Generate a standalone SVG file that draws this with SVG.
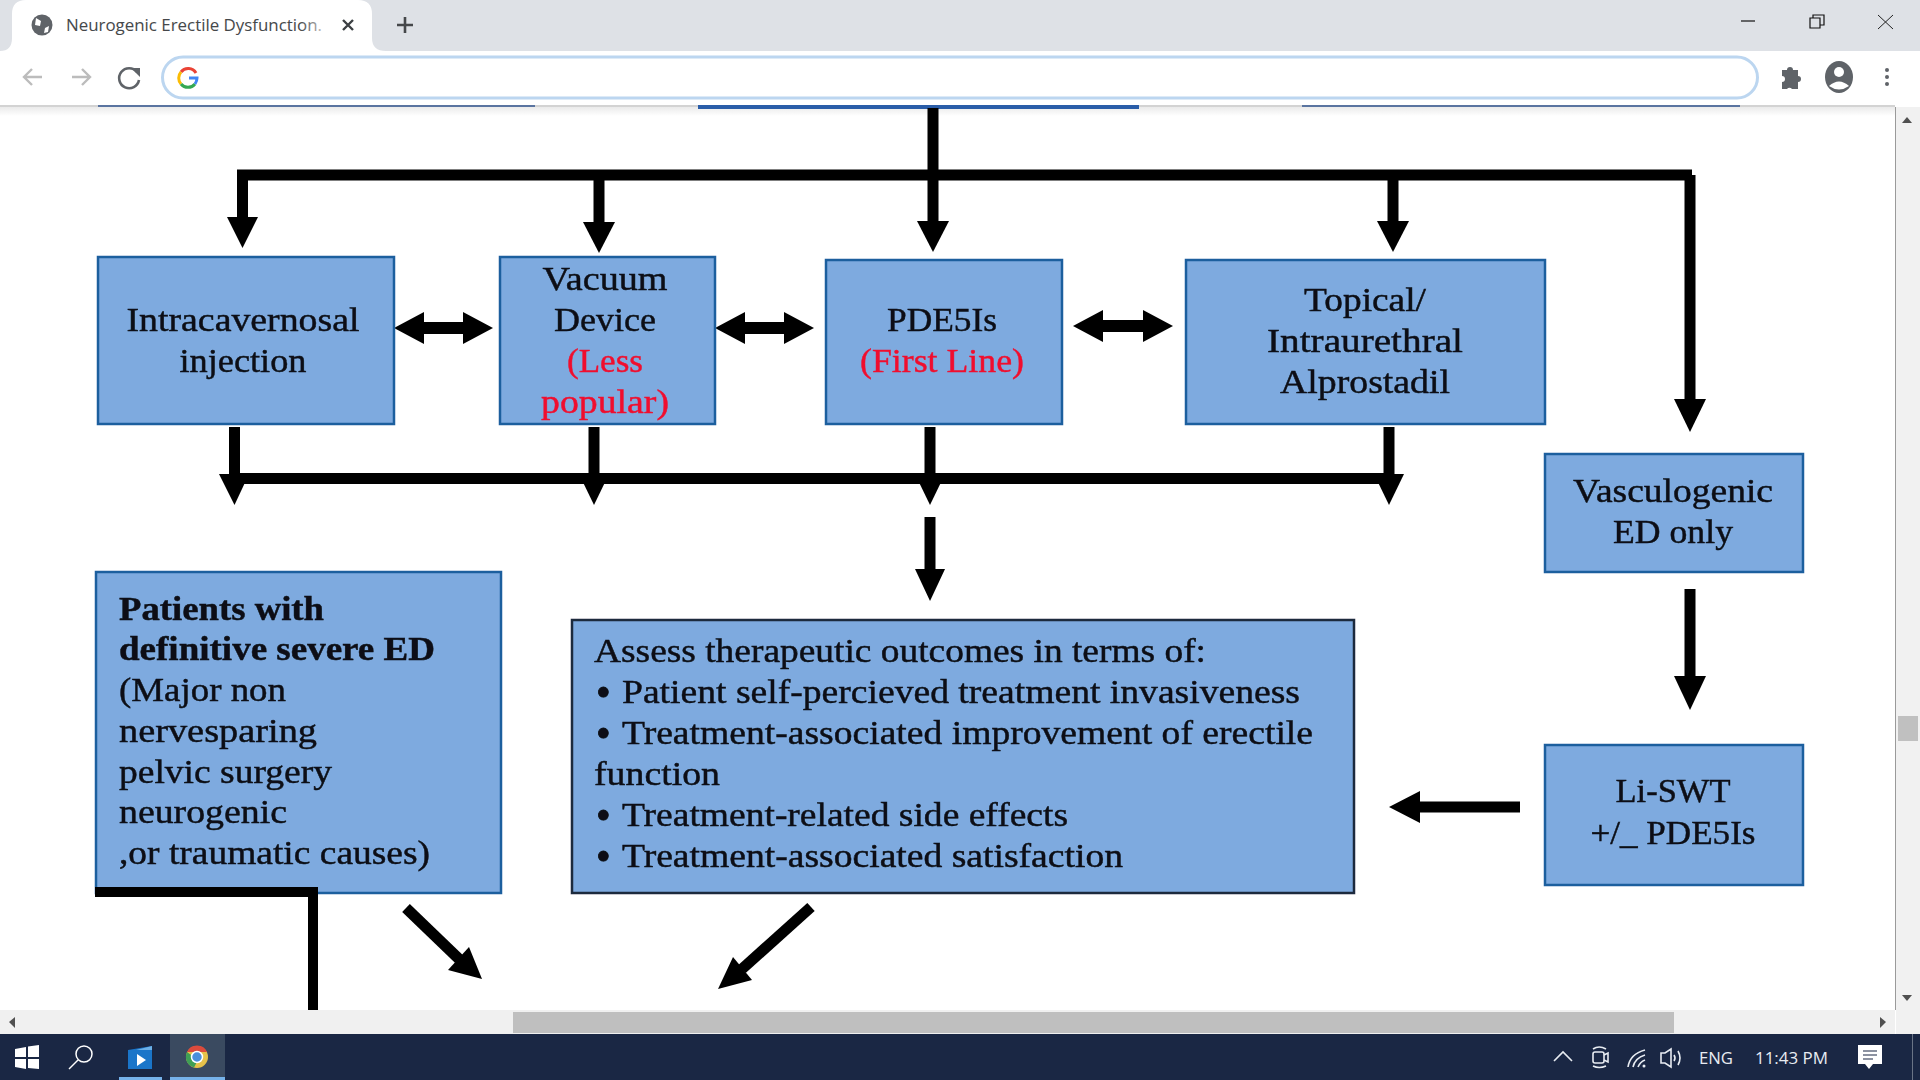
<svg xmlns="http://www.w3.org/2000/svg" width="1920" height="1080" viewBox="0 0 1920 1080">
<defs>
<linearGradient id="fade" gradientUnits="userSpaceOnUse" x1="300" y1="0" x2="324" y2="0"><stop offset="0" stop-color="#45474a"/><stop offset="1" stop-color="#c8c8c8"/></linearGradient>
<linearGradient id="shadow" x1="0" y1="0" x2="0" y2="1"><stop offset="0" stop-color="#c4c4c4"/><stop offset="1" stop-color="#ffffff"/></linearGradient>
<filter id="soft" x="-5%" y="-5%" width="110%" height="110%"><feGaussianBlur stdDeviation="0.5"/></filter>
</defs>
<style>
.box{fill:#7eaadf;stroke:#1f5f9e;stroke-width:2.5}
.dk{stroke:#1c2a3c}
.n text{font-family:"Liberation Serif","DejaVu Serif",serif;font-size:34px;fill:#0c0f14;stroke:#0c0f14;stroke-width:.45}
.n .c{text-anchor:middle}
.n .b{font-weight:700}
.n .r{fill:#f0102f;stroke:#f0102f}
.n .bu{font-size:42px;stroke-width:.8}
.ui{font-family:"Open Sans","Noto Sans",sans-serif;font-size:17px}
.sh{fill:none;stroke:#000;stroke-width:11}
.hd{fill:#000}
.ic{fill:#5f6368}
.ln{fill:none;stroke:#5f6368;stroke-width:2.6}
.gy{fill:none;stroke:#bcbcbc;stroke-width:2.4}
.wh{fill:none;stroke:#e8ecf2;stroke-width:1.6}
</style>
<rect width="1920" height="1080" fill="#fff"/>

<g id="browser-chrome">
<rect width="1920" height="51" fill="#dee1e6"/>
<path d="M0 51Q12 51 12 38V14Q12 0 26 0H358Q372 0 372 14V38Q372 51 386 51Z" fill="#fff"/>
<rect y="51" width="1920" height="54" fill="#fff"/>
<rect y="105" width="1895" height="2" fill="#c8c8c8" opacity=".8"/>
<rect x="0" y="107" width="1895" height="9" fill="url(#shadow)" opacity=".35"/>
<rect x="98" y="105" width="437" height="2" fill="#5a74a0"/>
<rect x="698" y="105" width="441" height="4" fill="#2a5da8"/>
<rect x="1302" y="105" width="438" height="2" fill="#5a74a0"/>
<circle cx="42" cy="25" r="10.500" class="ic"/>
<path d="M36 18l5 3-1 5-5-1zM45 28l4-2-1 6-4 1z" fill="#fff"/>
<text class="ui" x="66" y="31" textLength="256" lengthAdjust="spacingAndGlyphs" style="fill:url(#fade)">Neurogenic Erectile Dysfunction.</text>
<path d="M343 20L353 30M353 20L343 30" fill="none" stroke="#3c4043" stroke-width="2.400"/>
<path d="M405 17V33M397 25H413" fill="none" stroke="#45474a" stroke-width="2.600"/>
<path class="gy" d="M42 77H24M32 69L24 77L32 85"/>
<path class="gy" d="M72 77H90M82 69L90 77L82 85"/>
<path class="ln" d="M137 72A10 10 0 1 0 139 80"/>
<path class="ic" d="M131 68H140V77Z"/>
<rect x="162.500" y="57" width="1595" height="41" rx="20.500" fill="#fff" stroke="#bcd6f0" stroke-width="3"/>
<path d="M196 73A9 9 0 0 0 181 72" fill="none" stroke="#ea4335" stroke-width="3"/>
<path d="M181 72A9 9 0 0 0 181 84" fill="none" stroke="#fbbc05" stroke-width="3"/>
<path d="M181 84A9 9 0 0 0 195 84" fill="none" stroke="#34a853" stroke-width="3"/>
<path d="M195 84Q197 81 197 78H189" fill="none" stroke="#4285f4" stroke-width="3"/>
<path class="ic" d="M1782 70h5a3 3 0 0 1 6 0h5v6a3 3 0 0 1 0 6v7h-6a3 3 0 0 0-5 0h-5v-7a3 3 0 0 0 0-6z"/>
<ellipse cx="1839" cy="77" rx="14" ry="16" class="ic"/>
<circle cx="1839" cy="72" r="5" fill="#fff"/>
<path d="M1829 86Q1839 77 1849 86Q1839 93 1829 86Z" fill="#fff"/>
<circle cx="1887" cy="70" r="2" class="ic"/><circle cx="1887" cy="77" r="2" class="ic"/><circle cx="1887" cy="84" r="2" class="ic"/>
<path d="M1741 21H1755" stroke="#111" stroke-width="1.200" fill="none"/>
<path d="M1810 18H1820V28H1810ZM1813 18V15H1824V25H1820" stroke="#111" stroke-width="1.200" fill="none"/>
<path d="M1878 15L1893 29M1893 15L1878 29" stroke="#222" stroke-width="1" fill="none"/>
</g>

<g id="connectors" filter="url(#soft)">
<path class="sh" d="M242.500 218V175H1692"/>
<path class="hd" d="M227 217H258L242.500 248Z"/>
<path class="sh" d="M599 175V224"/>
<path class="hd" d="M583 222H615L599 253Z"/>
<path class="sh" d="M933 108V224"/>
<path class="hd" d="M917 221H949L933 252Z"/>
<path class="sh" d="M1393 175V224"/>
<path class="hd" d="M1377 221H1409L1393 252Z"/>
<path class="sh" d="M1690 175V402"/>
<path class="hd" d="M1674 399H1706L1690 432Z"/>
<path class="hd" d="M394 328L424 312V322H463V312L493 328L463 344V334H424V344Z"/>
<path class="hd" d="M715 328L745 312V322H784V312L814 328L784 344V334H745V344Z"/>
<path class="hd" d="M1073 326L1103 310V320H1143V310L1173 326L1143 342V332H1103V342Z"/>
<path class="sh" d="M234 478.500H1389"/>
<path class="sh" d="M234.500 427V477"/>
<path class="hd" d="M219 474H249L234.500 505Z"/>
<path class="sh" d="M594 427V477"/>
<path class="hd" d="M579 474H609L594 505Z"/>
<path class="sh" d="M930 427V477"/>
<path class="hd" d="M915 474H945L930 505Z"/>
<path class="sh" d="M1389 427V477"/>
<path class="hd" d="M1374 474H1404L1389 505Z"/>
<path class="sh" d="M930 517V572"/>
<path class="hd" d="M915 569H945L930 601Z"/>
<path class="sh" d="M1690 589V680"/>
<path class="hd" d="M1674 676H1706L1690 710Z"/>
<path class="sh" d="M1520 807H1418"/>
<path class="hd" d="M1420 791V823L1389 807Z"/>
<path class="sh" d="M406 908L459 959"/>
<path class="hd" d="M469 947L448 970L482 979Z"/>
<path class="sh" d="M811 907L742 969"/>
<path class="hd" d="M733 957L752 980L718 989Z"/>
</g>

<g id="node-intracavernosal" class="n" filter="url(#soft)">
<rect class="box" x="98" y="257" width="296" height="167"/>
<text class="c" x="243" y="331" textLength="233" lengthAdjust="spacingAndGlyphs">Intracavernosal</text>
<text class="c" x="243" y="372" textLength="127" lengthAdjust="spacingAndGlyphs">injection</text>
</g>
<g id="node-vacuum" class="n" filter="url(#soft)">
<rect class="box" x="500" y="257" width="215" height="167"/>
<text class="c" x="605" y="290" textLength="125" lengthAdjust="spacingAndGlyphs">Vacuum</text>
<text class="c" x="605" y="331" textLength="102" lengthAdjust="spacingAndGlyphs">Device</text>
<text class="c r" x="605" y="372" textLength="76" lengthAdjust="spacingAndGlyphs">(Less</text>
<text class="c r" x="605" y="413" textLength="128" lengthAdjust="spacingAndGlyphs">popular)</text>
</g>
<g id="node-pde5is" class="n" filter="url(#soft)">
<rect class="box" x="826" y="260" width="236" height="164"/>
<text class="c" x="942" y="331" textLength="110" lengthAdjust="spacingAndGlyphs">PDE5Is</text>
<text class="c r" x="942" y="372" textLength="164" lengthAdjust="spacingAndGlyphs">(First Line)</text>
</g>
<g id="node-topical" class="n" filter="url(#soft)">
<rect class="box" x="1186" y="260" width="359" height="164"/>
<text class="c" x="1365" y="311" textLength="122" lengthAdjust="spacingAndGlyphs">Topical/</text>
<text class="c" x="1365" y="352" textLength="196" lengthAdjust="spacingAndGlyphs">Intraurethral</text>
<text class="c" x="1365" y="393" textLength="170" lengthAdjust="spacingAndGlyphs">Alprostadil</text>
</g>
<g id="node-vasculogenic" class="n" filter="url(#soft)">
<rect class="box" x="1545" y="454" width="258" height="118"/>
<text class="c" x="1673" y="502" textLength="200" lengthAdjust="spacingAndGlyphs">Vasculogenic</text>
<text class="c" x="1673" y="543" textLength="120" lengthAdjust="spacingAndGlyphs">ED only</text>
</g>
<g id="node-liswt" class="n" filter="url(#soft)">
<rect class="box" x="1545" y="745" width="258" height="140"/>
<text class="c" x="1673" y="802" textLength="115" lengthAdjust="spacingAndGlyphs">Li-SWT</text>
<text class="c" x="1673" y="844" textLength="165" lengthAdjust="spacingAndGlyphs">+/_ PDE5Is</text>
</g>
<g id="node-patients" class="n" filter="url(#soft)">
<rect class="box" x="96" y="572" width="405" height="321"/>
<text class="b" x="119" y="620" textLength="205" lengthAdjust="spacingAndGlyphs">Patients with</text>
<text class="b" x="119" y="660" textLength="316" lengthAdjust="spacingAndGlyphs">definitive severe ED</text>
<text x="119" y="701" textLength="167" lengthAdjust="spacingAndGlyphs">(Major non</text>
<text x="119" y="742" textLength="198" lengthAdjust="spacingAndGlyphs">nervesparing</text>
<text x="119" y="783" textLength="213" lengthAdjust="spacingAndGlyphs">pelvic surgery</text>
<text x="119" y="823" textLength="168" lengthAdjust="spacingAndGlyphs">neurogenic</text>
<text x="119" y="864" textLength="311" lengthAdjust="spacingAndGlyphs">,or traumatic causes)</text>
</g>
<g id="node-assess" class="n" filter="url(#soft)">
<rect class="box dk" x="572" y="620" width="782" height="273"/>
<text x="594" y="662" textLength="612" lengthAdjust="spacingAndGlyphs">Assess therapeutic outcomes in terms of:</text>
<text class="bu" x="596" y="706">•</text>
<text x="622" y="703" textLength="678" lengthAdjust="spacingAndGlyphs">Patient self-percieved treatment invasiveness</text>
<text class="bu" x="596" y="747">•</text>
<text x="622" y="744" textLength="691" lengthAdjust="spacingAndGlyphs">Treatment-associated improvement of erectile</text>
<text x="594" y="785" textLength="126" lengthAdjust="spacingAndGlyphs">function</text>
<text class="bu" x="596" y="829">•</text>
<text x="622" y="826" textLength="446" lengthAdjust="spacingAndGlyphs">Treatment-related side effects</text>
<text class="bu" x="596" y="870">•</text>
<text x="622" y="867" textLength="501" lengthAdjust="spacingAndGlyphs">Treatment-associated satisfaction</text>
</g>
<g id="connector-patients-line" filter="url(#soft)">
<path d="M95 887H318V1010H308V897H95Z" fill="#000"/>
</g>

<g id="scrollbars">
<rect x="1895" y="107" width="1" height="903" fill="#9a9a9a"/>
<rect x="1896" y="107" width="24" height="927" fill="#f1f1f1"/>
<path d="M1907 117L1912 123H1902Z" fill="#505050"/>
<path d="M1907 1001L1912 995H1902Z" fill="#505050"/>
<rect x="1898" y="716" width="20" height="25" fill="#c0c0c0"/>
<rect y="1010" width="1895" height="24" fill="#f0f0f0"/>
<rect x="513" y="1012" width="1161" height="21" fill="#bfbfbf"/>
<path d="M9 1022L15 1017V1028Z" fill="#505050"/>
<path d="M1886 1022L1880 1017V1028Z" fill="#505050"/>
</g>

<g id="taskbar">
<rect y="1034" width="1920" height="46" fill="#1a2744"/>
<path d="M15 1057V1049L26 1047V1057ZM28 1057V1046.500L39 1045V1057ZM15 1059H26V1069L15 1067ZM28 1059H39V1069L28 1068Z" fill="#fff"/>
<circle cx="84" cy="1054" r="8" fill="none" stroke="#fff" stroke-width="1.500"/>
<path d="M78 1060L69 1069" stroke="#fff" stroke-width="1.500"/>
<path d="M128 1050L152 1046V1069H128Z" fill="#1a75c9"/>
<path d="M136 1050L152 1046V1050Z" fill="#6cb0e8"/>
<path d="M137 1054L146 1060L137 1066Z" fill="#fff"/>
<rect x="119" y="1077" width="43" height="3" fill="#76b2ea"/>
<rect x="170" y="1034" width="55" height="46" fill="#3a4a60"/>
<rect x="170" y="1077" width="55" height="3" fill="#76b2ea"/>
<circle cx="197" cy="1057" r="11" fill="#e6c24a"/>
<path d="M187 1052A11 11 0 0 1 207 1052H197Z" fill="#dc4a3c"/>
<path d="M187 1052A11 11 0 0 0 194 1067.500L198 1060Z" fill="#3f9f55"/>
<circle cx="197" cy="1057" r="5.500" fill="#4a8fdc" stroke="#fff" stroke-width="1.500"/>
<path class="wh" d="M1554 1061L1563 1052L1572 1061"/>
<rect x="1593" y="1052" width="11" height="11" rx="2" class="wh"/>
<path class="wh" d="M1604 1055L1608 1053V1062L1604 1060M1593 1049Q1599 1045 1606 1049M1593 1066Q1599 1069 1606 1066"/>
<path class="wh" d="M1628 1067Q1630 1054 1645 1050M1633 1067Q1635 1058 1645 1055M1638 1067Q1640 1062 1645 1060"/>
<circle cx="1644" cy="1066" r="1.500" fill="#e8ecf2"/>
<path class="wh" d="M1661 1053V1063H1665L1671 1067V1049L1665 1053Z"/>
<path class="wh" d="M1674 1055Q1676 1058 1674 1061M1678 1051Q1682 1058 1678 1065"/>
<text class="ui" x="1699" y="1064" style="fill:#e8ecf2" textLength="34" lengthAdjust="spacingAndGlyphs">ENG</text>
<text class="ui" x="1755" y="1064" style="fill:#e8ecf2" textLength="73" lengthAdjust="spacingAndGlyphs">11:43 PM</text>
<path d="M1858 1045H1882V1064H1873L1869 1069L1865 1064H1858Z" fill="#fff"/>
<path d="M1863 1051H1877M1863 1055H1877M1863 1059H1873" stroke="#1a2744" stroke-width="1.200"/>
<rect x="1912" y="1034" width="1" height="46" fill="#6a7486"/>
</g>
</svg>
